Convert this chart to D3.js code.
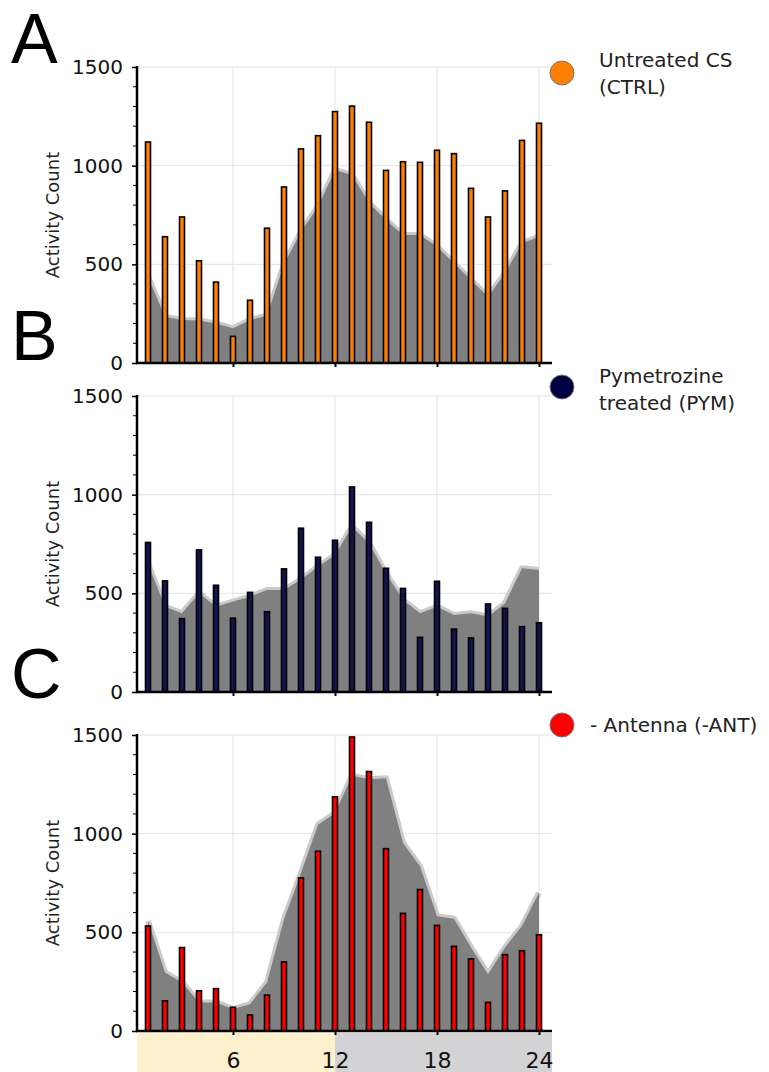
<!DOCTYPE html>
<html>
<head>
<meta charset="utf-8">
<script src="https://cdn.jsdelivr.net/npm/d3@7"></script>
<style>
  html, body { margin: 0; padding: 0; background: #fff; }
  svg { display: block; }
</style>
</head>
<body>
<div id="chart"></div>
<script>
// ---------- DATA ----------
const hours = d3.range(1, 25);
const xTickValues = [6, 12, 18, 24];
const yTickValues = [0, 500, 1000, 1500];

const ctrlBars = [1120, 640, 740, 518, 410, 135, 318, 683, 892, 1085, 1152, 1274, 1302, 1220, 976, 1020, 1017, 1078, 1061, 885, 740, 872, 1128, 1215];
const ctrlArea = [436, 235, 218, 215, 200, 176, 218, 240, 500, 665, 792, 978, 953, 811, 725, 649, 649, 590, 505, 421, 336, 455, 607, 640];

const pymBars = [758, 563, 372, 720, 541, 374, 505, 407, 624, 830, 683, 769, 1039, 860, 627, 525, 277, 561, 319, 274, 446, 424, 331, 351];
const pymArea = [650, 432, 399, 500, 432, 458, 483, 517, 517, 570, 635, 694, 838, 753, 601, 466, 399, 432, 390, 399, 382, 449, 627, 618];

const antBars = [532, 153, 423, 204, 215, 120, 81, 182, 350, 776, 911, 1187, 1490, 1315, 924, 596, 717, 535, 429, 365, 145, 387, 407, 488];
const antArea = [557, 296, 246, 145, 145, 111, 136, 246, 566, 801, 1045, 1104, 1293, 1276, 1281, 953, 835, 582, 569, 423, 288, 423, 532, 700];

const panels = [
  { letter: "A", bars: ctrlBars, area: ctrlArea, color: "#ff8000", legend: ["Untreated CS", "(CTRL)"] },
  { letter: "B", bars: pymBars, area: pymArea, color: "#13134f", legend: ["Pymetrozine", "treated (PYM)"] },
  { letter: "C", bars: antBars, area: antArea, color: "#ff0000", legend: ["- Antenna (-ANT)"] }
];
const legendDot = ["#ff8000", "#000040", "#ff0000"];

// ---------- LAYOUT ----------
const W = 769, H = 1072;
const panelTops = [67, 396, 735];
const panelH = 296;
const axisLeft = 137, axisRight = 552;

const svg = d3.select("#chart").append("svg").attr("width", W).attr("height", H);
const x = d3.scaleLinear().domain([0, 24]).range([131, 539]);
const FONT = "DejaVu Sans, Verdana, sans-serif";

// bottom day/night band
const bandTop = 1033;
svg.append("rect").attr("x", axisLeft).attr("y", bandTop)
  .attr("width", x(12) - axisLeft).attr("height", H - bandTop).attr("fill", "#fdf0cd");
svg.append("rect").attr("x", x(12)).attr("y", bandTop)
  .attr("width", axisRight - x(12)).attr("height", H - bandTop).attr("fill", "#d3d2d4");

panels.forEach((p, i) => {
  const top = panelTops[i];
  const y = d3.scaleLinear().domain([0, 1500]).range([top + panelH, top]);
  const g = svg.append("g");

  // grid
  g.selectAll(".hg").data([500, 1000, 1500]).enter().append("line")
    .attr("x1", axisLeft).attr("x2", axisRight)
    .attr("y1", d => y(d)).attr("y2", d => y(d))
    .attr("stroke", "#e2e2e2").attr("stroke-width", 1);
  g.selectAll(".vg").data(xTickValues).enter().append("line")
    .attr("x1", d => x(d)).attr("x2", d => x(d))
    .attr("y1", y(1500)).attr("y2", y(0))
    .attr("stroke", "#e2e2e2").attr("stroke-width", 1);

  // area with light halo
  const line = d3.line().x((d, k) => x(hours[k])).y(d => y(d));
  const area = d3.area().x((d, k) => x(hours[k])).y0(y(0)).y1(d => y(d));
  g.append("path").datum(p.area).attr("d", line)
    .attr("fill", "none").attr("stroke", "#c4c4c4").attr("stroke-width", 6)
    .attr("stroke-linejoin", "round").attr("opacity", 0.9);
  g.append("path").datum(p.area).attr("d", area).attr("fill", "#808080");

  // bars
  const bw = 5;
  g.selectAll(".bar").data(p.bars).enter().append("rect")
    .attr("x", (d, k) => x(hours[k]) - bw / 2)
    .attr("y", d => y(d))
    .attr("width", bw)
    .attr("height", d => y(0) - y(d))
    .attr("fill", p.color).attr("stroke", "#000").attr("stroke-width", 1.6);

  // y axis
  const yAxis = d3.axisLeft(y).tickValues(yTickValues).tickSize(5).tickPadding(9).tickFormat(d3.format("d"));
  const ya = g.append("g").attr("transform", `translate(${axisLeft},0)`).call(yAxis);
  ya.select(".domain").remove();
  ya.selectAll(".tick line").attr("stroke", "#000").attr("stroke-width", 1.5);
  ya.selectAll(".tick text").attr("font-family", FONT).attr("font-size", 20).attr("fill", "#111");
  // minor ticks
  g.selectAll(".minor").data(d3.range(100, 1500, 100).filter(v => v % 500 !== 0)).enter().append("line")
    .attr("x1", axisLeft - 4).attr("x2", axisLeft)
    .attr("y1", d => y(d)).attr("y2", d => y(d))
    .attr("stroke", "#000").attr("stroke-width", 1);
  g.append("line").attr("x1", axisLeft).attr("x2", axisLeft)
    .attr("y1", y(1500) - 1).attr("y2", y(0) + 1)
    .attr("stroke", "#000").attr("stroke-width", 2.5);

  // x axis
  const xAxis = d3.axisBottom(x).tickValues(xTickValues).tickSize(4).tickPadding(i === 2 ? 17 : 4)
    .tickFormat(i === 2 ? d3.format("d") : () => "");
  const xa = g.append("g").attr("transform", `translate(0,${y(0)})`).call(xAxis);
  xa.select(".domain").remove();
  xa.selectAll(".tick line").attr("stroke", "#000").attr("stroke-width", 2);
  xa.selectAll(".tick text").attr("font-family", FONT).attr("font-size", 22).attr("fill", "#111");
  g.append("line").attr("x1", axisLeft - 1).attr("x2", axisRight)
    .attr("y1", y(0)).attr("y2", y(0))
    .attr("stroke", "#000").attr("stroke-width", 2.5);

  // y label
  g.append("text")
    .attr("transform", `translate(59,${top + panelH / 2}) rotate(-90)`)
    .attr("text-anchor", "middle")
    .attr("font-family", FONT).attr("font-size", 18).attr("fill", "#222")
    .text("Activity Count");

  // panel letter
  const letterBase = [63, 360, 698][i];
  g.append("text").attr("x", 11).attr("y", letterBase)
    .attr("font-family", "Liberation Sans, Arial, sans-serif").attr("font-size", 70)
    .attr("fill", "#000").text(p.letter);

  // legend
  const legCy = [73, 387, 725][i];
  g.append("circle").attr("cx", 562).attr("cy", legCy).attr("r", 12)
    .attr("fill", legendDot[i]).attr("stroke", "#777").attr("stroke-width", 1);
  if (p.legend.length === 2) {
    const base1 = [67, 383][i];
    p.legend.forEach((t, k) => {
      g.append("text").attr("x", 599).attr("y", base1 + k * 27)
        .attr("font-family", FONT).attr("font-size", 20).attr("fill", "#222").text(t);
    });
  } else {
    g.append("text").attr("x", 590).attr("y", 732)
      .attr("font-family", FONT).attr("font-size", 20).attr("fill", "#222").text(p.legend[0]);
  }
});
</script>
</body>
</html>
